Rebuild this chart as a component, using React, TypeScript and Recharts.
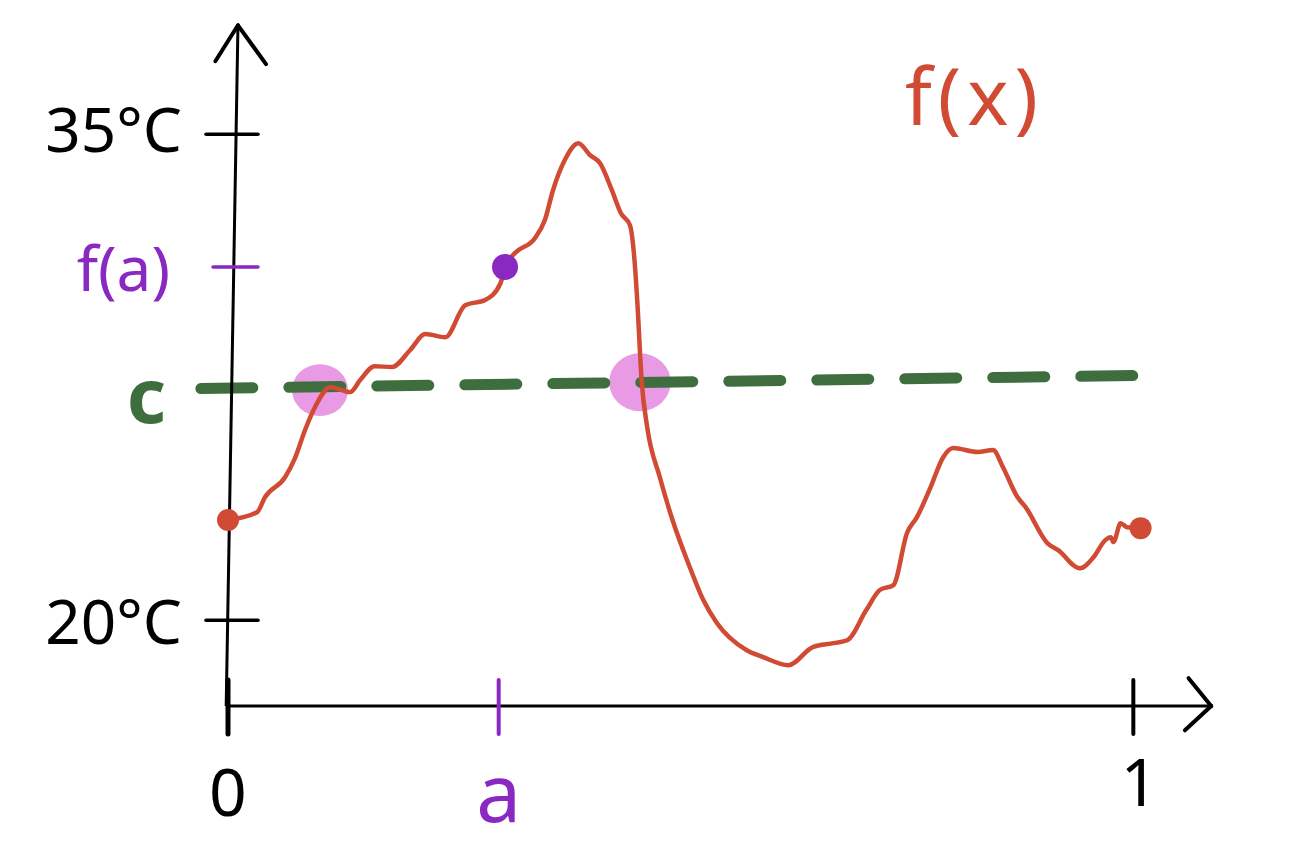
import { LineChart, Line, XAxis, YAxis, ReferenceLine, ReferenceDot, ReferenceArea } from 'recharts';

// f(x): x in [0, 1], temperature in °C
const xs = [
  0, 0.032, 0.041, 0.063, 0.074, 0.085, 0.096, 0.113, 0.135, 0.146, 0.162, 0.181, 0.201, 0.218, 0.24, 0.262,
  0.284, 0.301, 0.306, 0.317, 0.339, 0.35, 0.359, 0.372, 0.387, 0.4, 0.411, 0.424, 0.434, 0.444, 0.449, 0.452,
  0.457, 0.463, 0.477, 0.491, 0.51, 0.525, 0.54, 0.573, 0.591, 0.619, 0.646, 0.669, 0.684, 0.705, 0.72, 0.735,
  0.75, 0.761, 0.776, 0.79, 0.801, 0.828, 0.845, 0.856, 0.872, 0.881, 0.905, 0.917, 0.941, 0.956, 0.969, 0.975,
  0.978, 0.986, 0.993, 1.008,
];
const temps = [
  23.09, 23.33, 23.8, 24.41, 25.0, 25.86, 26.57, 27.19, 27.04, 27.41, 27.84, 27.81, 28.33, 28.83, 28.73, 29.72,
  29.88, 30.4, 30.9, 31.33, 31.79, 32.35, 33.27, 34.2, 34.72, 34.35, 34.1, 33.27, 32.56, 32.19, 31.11, 29.88,
  27.35, 25.96, 24.41, 23.09, 21.64, 20.62, 19.91, 19.07, 18.86, 18.61, 19.17, 19.29, 19.38, 20.31, 20.93, 21.08,
  22.69, 23.18, 24.1, 25.03, 25.31, 25.19, 25.25, 24.72, 23.8, 23.49, 22.38, 22.16, 21.6, 21.94, 22.47, 22.56,
  22.41, 22.99, 22.87, 22.84,
];

const A_X = 0.299;
const F_A = 30.9;
const C_LEFT = 27.15;
const C_RIGHT = 27.55;
// highlighted spots where f crosses c (x range, y range)
const crossX1 = [0.0707, 0.421];
const crossX2 = [0.1326, 0.489];
const crossY1 = [26.3, 26.45];
const crossY2 = [27.9, 28.24];

const yTickValues = [20, 27.3, F_A, 35];
const yTickLabels = ['20°C', 'c', 'f(a)', '35°C'];
const xTickValues = [0, A_X, 1];
const xTickLabels = ['0', 'a', '1'];

const X_MAX = 1.088;
const Y_MIN = 17.35;
const Y_MAX = 38.4;

const data = xs.map((x, i) => ({ x, f: temps[i] }));

const RED = '#d14a33';
const PURPLE = '#8a28c2';
const GREEN = '#3e6e3e';
const PINK = '#e89be4';
const FONT = '"Noto Sans", sans-serif';

function YTick(props: any) {
  const { x, y, payload } = props;
  const label = yTickLabels[yTickValues.indexOf(payload.value)];
  if (label === 'c') {
    return (
      <text x={x - 62} y={y + 10} textAnchor="end" dominantBaseline="central" fill={GREEN}
        fontSize={76} fontWeight={700} fontFamily={FONT}>c</text>
    );
  }
  const purple = label === 'f(a)';
  const color = purple ? PURPLE : '#000';
  return (
    <g>
      <line x1={purple ? x - 15 : x - 22} x2={x + 30} y1={y} y2={y} stroke={color} strokeWidth={3.5} strokeLinecap="round" />
      <text x={purple ? x - 58 : x - 46} y={label === '35°C' ? y - 6 : y} textAnchor="end" dominantBaseline="central"
        fill={color} fontSize={62} fontFamily={FONT}>{label}</text>
    </g>
  );
}

function XTick(props: any) {
  const { x, y, payload } = props;
  const label = xTickLabels[xTickValues.indexOf(payload.value)];
  const color = label === 'a' ? PURPLE : '#000';
  return (
    <g>
      <line x1={x} x2={x} y1={y - 26} y2={y + 28} stroke={color} strokeWidth={label === '0' ? 5 : 4} strokeLinecap="round" />
      <text x={label === '1' ? x + 6 : x} y={label === '1' ? y + 74 : y + 84} textAnchor="middle" dominantBaseline="central"
        fill={color} fontSize={label === 'a' ? 80 : 66} fontFamily={FONT}>{label}</text>
    </g>
  );
}

function Blob(props: any) {
  const { x, y, width, height } = props;
  return <ellipse cx={x + width / 2} cy={y + height / 2} rx={width / 2} ry={height / 2} fill={PINK} />;
}

export default function App() {
  return (
    <div style={{ position: 'absolute', left: 0, top: 0, width: 1310, height: 857, background: '#fff' }}>
      <LineChart width={1310} height={857} data={data} margin={{ top: 24, right: 97, bottom: 31, left: 0 }}>
        <XAxis
          dataKey="x"
          type="number"
          domain={[0, X_MAX]}
          ticks={xTickValues}
          allowDataOverflow
          height={120}
          tickSize={0}
          tickMargin={0}
          tickLine={false}
          axisLine={{ stroke: '#000', strokeWidth: 3 }}
          tick={<XTick />}
        />
        <YAxis
          type="number"
          domain={[Y_MIN, Y_MAX]}
          ticks={yTickValues}
          allowDataOverflow
          width={228}
          tickSize={0}
          tickMargin={0}
          tickLine={false}
          axisLine={false}
          tick={<YTick />}
        />
        {crossX1.map((x1, i) => (
          <ReferenceArea key={i} x1={x1} x2={crossX2[i]} y1={crossY1[i]} y2={crossY2[i]} shape={<Blob />} />
        ))}
        <ReferenceLine
          segment={[{ x: -0.03, y: C_LEFT }, { x: 1.005, y: C_RIGHT }]}
          ifOverflow="visible"
          stroke={GREEN}
          strokeWidth={11}
          strokeDasharray="52 36"
          strokeLinecap="round"
        />
        {/* y axis with arrow head */}
        <ReferenceLine segment={[{ x: -0.002, y: Y_MIN }, { x: 0.011, y: Y_MAX - 0.04 }]} ifOverflow="visible" stroke="#000" strokeWidth={3} />
        <ReferenceLine segment={[{ x: -0.014, y: 37.25 }, { x: 0.011, y: Y_MAX - 0.04 }]} ifOverflow="visible" stroke="#000" strokeWidth={4} strokeLinecap="round" />
        <ReferenceLine segment={[{ x: 0.011, y: Y_MAX - 0.04 }, { x: 0.042, y: 37.16 }]} ifOverflow="visible" stroke="#000" strokeWidth={4} strokeLinecap="round" />
        {/* x axis arrow head */}
        <ReferenceLine segment={[{ x: 1.061, y: 18.21 }, { x: X_MAX - 0.002, y: Y_MIN }]} ifOverflow="visible" stroke="#000" strokeWidth={4} strokeLinecap="round" />
        <ReferenceLine segment={[{ x: X_MAX - 0.002, y: Y_MIN }, { x: 1.057, y: 16.6 }]} ifOverflow="visible" stroke="#000" strokeWidth={4} strokeLinecap="round" />
        <Line
          type="monotone"
          dataKey="f"
          stroke={RED}
          strokeWidth={4.5}
          dot={false}
          activeDot={false}
          isAnimationActive={false}
        />
        <ReferenceDot x={xs[0]} y={temps[0]} r={11} fill={RED} stroke="none" />
        <ReferenceDot x={xs[xs.length - 1]} y={temps[temps.length - 1]} r={11} fill={RED} stroke="none" />
        <ReferenceDot x={0.306} y={F_A} r={13} fill={PURPLE} stroke="none" />
      </LineChart>
      <div
        style={{
          position: 'absolute',
          left: 905,
          top: 56,
          color: RED,
          fontFamily: FONT,
          fontSize: 78,
          letterSpacing: 6,
          lineHeight: 1,
        }}
      >
        f(x)
      </div>
    </div>
  );
}
